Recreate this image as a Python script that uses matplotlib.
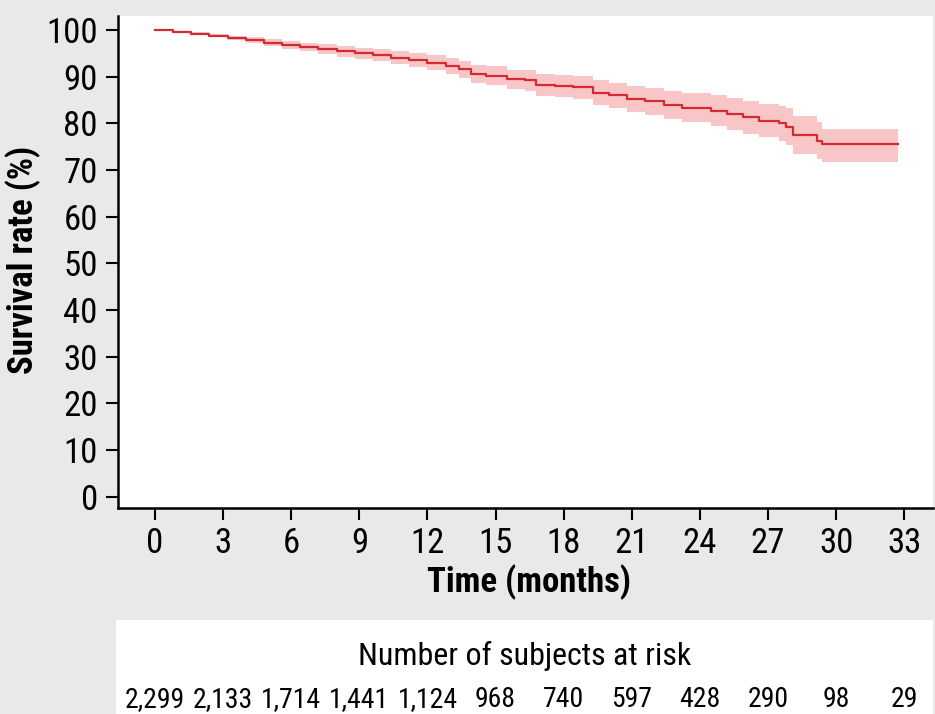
import matplotlib
matplotlib.use("Agg")
import matplotlib.pyplot as plt

# Kaplan-Meier estimate (step change points, months)
times = [0, 0.8, 1.6, 2.4, 3.2, 4.0, 4.8, 5.6, 6.4, 7.2, 8.0, 8.8, 9.6, 10.4,
         11.2, 12.0, 12.8, 13.4, 13.9, 14.6, 15.5, 16.3, 16.8, 17.6, 18.4,
         19.3, 20.0, 20.8, 21.6, 22.4, 23.2, 24.5, 25.2, 25.9, 26.6, 27.5,
         27.8, 28.1, 29.15, 29.4, 32.75]
surv = [100, 99.6, 99.2, 98.8, 98.3, 97.8, 97.3, 96.8, 96.3, 95.9, 95.4,
        95.0, 94.6, 94.1, 93.6, 93.0, 92.3, 91.6, 90.6, 90.2, 89.4, 89.2,
        88.2, 88.0, 87.7, 86.6, 86.0, 85.3, 84.7, 84.0, 83.3, 82.7, 82.0,
        81.3, 80.6, 80.0, 79.3, 77.5, 76.3, 75.6, 75.6]
lower = [100, 99.4, 98.9, 98.4, 97.8, 97.2, 96.6, 96.0, 95.4, 94.9, 94.3,
         93.8, 93.3, 92.7, 92.1, 91.4, 90.6, 89.8, 88.7, 88.2, 87.3, 87.0,
         85.9, 85.6, 85.2, 84.0, 83.3, 82.5, 81.8, 81.0, 80.2, 79.4, 78.6,
         77.8, 77.0, 76.2, 75.4, 73.4, 72.4, 71.8, 71.8]
upper = [100, 99.8, 99.5, 99.2, 98.8, 98.4, 98.0, 97.6, 97.2, 96.9, 96.5,
         96.2, 95.9, 95.5, 95.1, 94.6, 94.0, 93.4, 92.5, 92.2, 91.5, 91.4,
         90.5, 90.4, 90.2, 89.2, 88.7, 88.1, 87.6, 87.0, 86.4, 86.0, 85.4,
         84.8, 84.2, 83.8, 83.2, 81.6, 80.2, 78.8, 78.8]

x_ticks = [0, 3, 6, 9, 12, 15, 18, 21, 24, 27, 30, 33]
y_ticks = [0, 10, 20, 30, 40, 50, 60, 70, 80, 90, 100]
at_risk = ["2,299", "2,133", "1,714", "1,441", "1,124", "968", "740", "597",
           "428", "290", "98", "29"]

# condensed sans first, plain sans as fallback
plt.rcParams["font.family"] = ["Roboto Condensed", "Liberation Sans", "DejaVu Sans"]

BG = "#e9e9ea"
LINE = "#d42a32"
BAND = "#f8c6c6"

fig = plt.figure(figsize=(9.35, 7.14), dpi=100, facecolor=BG)

ax = fig.add_axes([118 / 935, 1 - 508 / 714, 815 / 935, 492 / 714])
ax.set_facecolor("white")
ax.fill_between(times, lower, upper, step="post", color=BAND, lw=0)
ax.step(times, surv, where="post", color=LINE, lw=1.6)

ax.set_xlim(-1.63, 34.27)
ax.set_ylim(-2.4, 103.0)
ax.set_xticks(x_ticks)
ax.set_yticks(y_ticks)
for side in ("top", "right"):
    ax.spines[side].set_visible(False)
for side in ("left", "bottom"):
    ax.spines[side].set_linewidth(1.8)
ax.tick_params(axis="both", direction="out", length=8.5, width=1.5,
               labelsize=25)
ax.tick_params(axis="x", pad=5)
ax.tick_params(axis="y", pad=6)

ax.set_ylabel("Survival rate (%)", fontsize=25, fontweight="bold")
ax.yaxis.set_label_coords(-0.094, 0.504)
ax.set_xlabel("Time (months)", fontsize=25, fontweight="bold", va="baseline")
ax.xaxis.set_label_coords(0.504, -0.1707)

# number-at-risk band
ax2 = fig.add_axes([116 / 935, 0, 817 / 935, 94 / 714])
ax2.set_xlim(-1.72, 34.27)
ax2.set_ylim(0, 1)
ax2.axis("off")
ax2.add_patch(plt.Rectangle((0, 0), 1, 1, transform=ax2.transAxes,
                            color="white", zorder=0))
ax2.text(0.5, 0.521, "Number of subjects at risk", transform=ax2.transAxes,
         ha="center", va="baseline", fontsize=23)
for t, n in zip(x_ticks, at_risk):
    ax2.text(t, 0.074, n, ha="center", va="baseline", fontsize=20)

fig.savefig("out.png", dpi=100, facecolor=BG)
